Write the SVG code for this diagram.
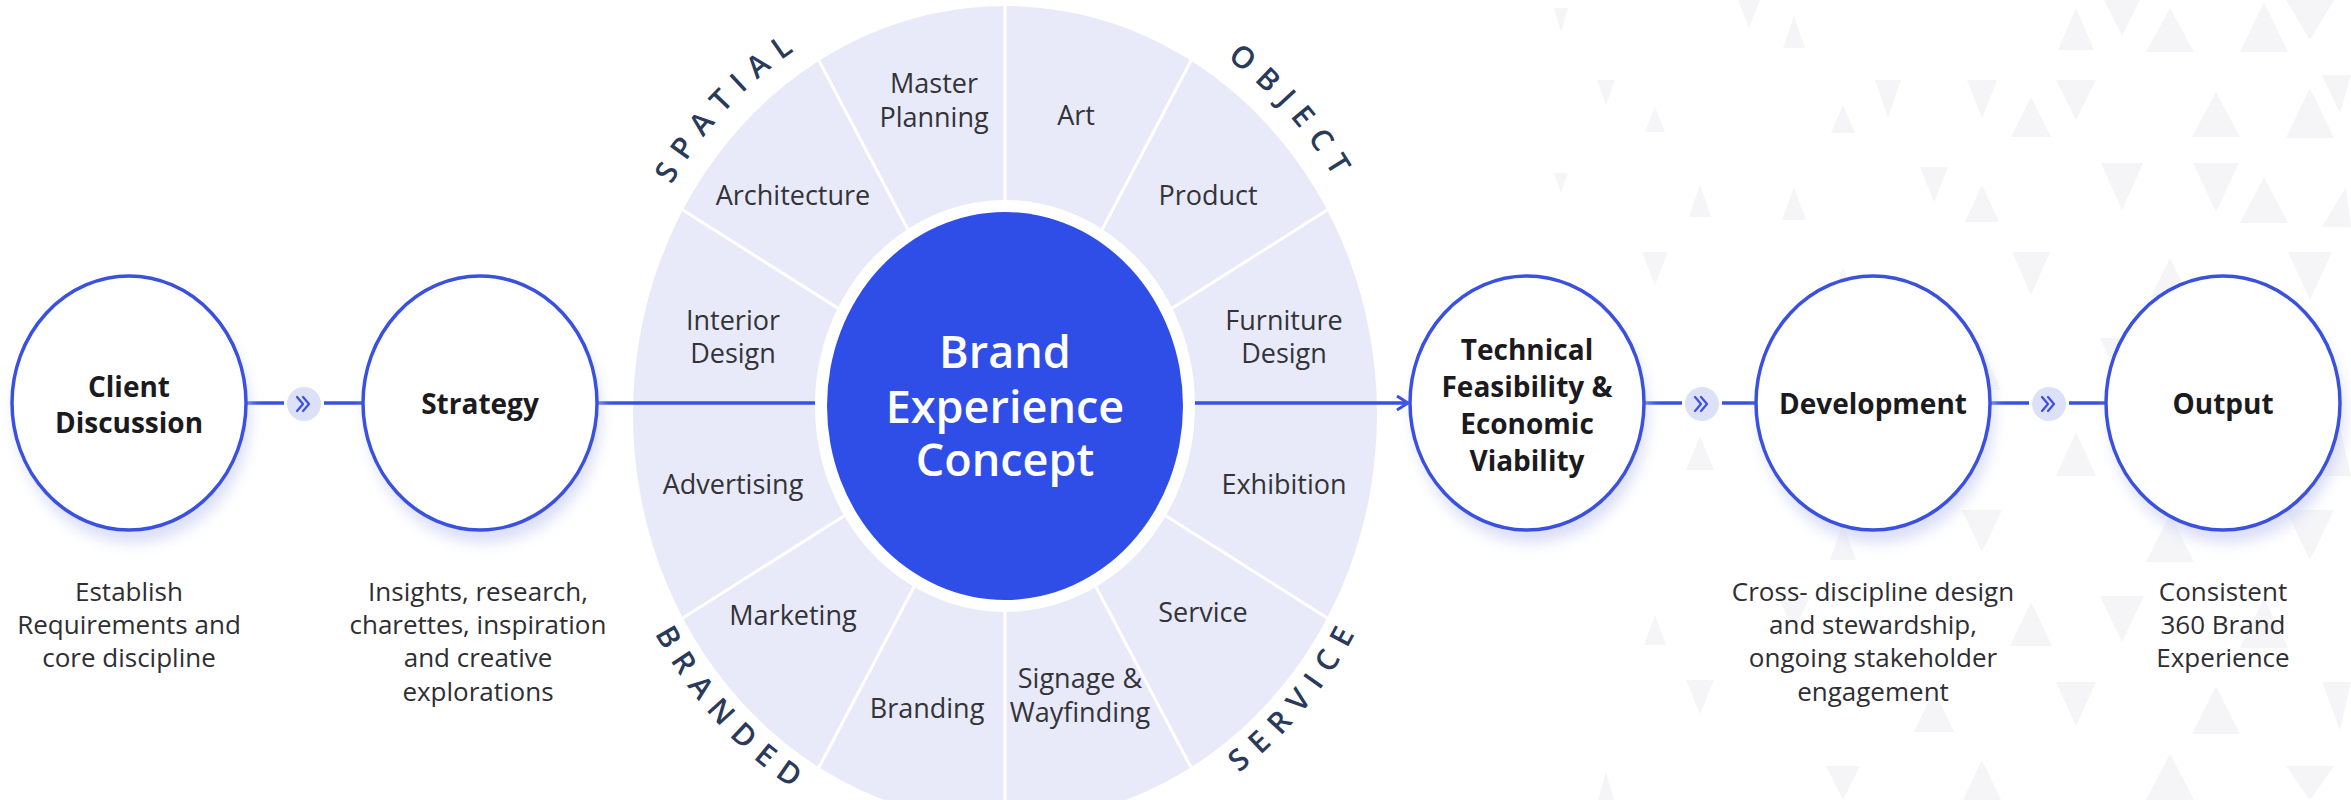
<svg xmlns="http://www.w3.org/2000/svg" width="2351" height="800" viewBox="0 0 2351 800">
<defs>
<style>
.tri{fill:#f5f5f7}
.node{fill:#ffffff;stroke:#3a50e0;stroke-width:3.5}
.shadow{fill:#ccd1f5;opacity:0.7}
.lbl{font-family:"Open Sans","Liberation Sans",sans-serif;font-weight:700;font-size:28px;fill:#1b1b1f;text-anchor:middle}
.desc{font-family:"Open Sans","Liberation Sans",sans-serif;font-weight:500;font-size:26px;fill:#2e2e33;text-anchor:middle}
.seg{font-family:"Open Sans","Liberation Sans",sans-serif;font-size:27px;fill:#333338;text-anchor:middle}
.core{font-family:"Open Sans","Liberation Sans",sans-serif;font-weight:600;font-size:45px;fill:#ffffff;text-anchor:middle}
.cat{font-family:"Open Sans","Liberation Sans",sans-serif;font-weight:600;font-size:30px;fill:#2a3a5a;letter-spacing:11px;text-anchor:middle}
.conn{stroke:#3a50e0;stroke-width:3.5;fill:none}
.div{stroke:#ffffff;stroke-width:3}
.badge{fill:#dde1f7}
.chev{stroke:#3a50e0;stroke-width:2.2;fill:none;stroke-linecap:round;stroke-linejoin:round}
</style>
<filter id="blur" x="-20%" y="-20%" width="140%" height="140%"><feGaussianBlur stdDeviation="7"/></filter>
<marker id="arrow" viewBox="0 0 16 18" refX="14" refY="9" markerWidth="16" markerHeight="18" markerUnits="userSpaceOnUse" orient="auto">
<path d="M3 2 L14 9 L3 16" fill="none" stroke="#3a50e0" stroke-width="3"/>
</marker>
<path id="arcTop" d="M 611 414 A 394 430 0 0 1 1399 414"/>
<path id="arcBot" d="M 601 414 A 404 440 0 0 0 1409 414"/>
</defs>
<rect width="2351" height="800" fill="#ffffff"/>

<g id="background-triangles">
<polygon class="tri" points="1554,8 1568,8 1561,32"/>
<polygon class="tri" points="1738,0 1760,0 1749,28"/>
<polygon class="tri" points="1783,48 1805,48 1794,16"/>
<polygon class="tri" points="2058,50 2094,50 2076,8"/>
<polygon class="tri" points="2104,0 2140,0 2122,36"/>
<polygon class="tri" points="2146,52 2194,52 2170,8"/>
<polygon class="tri" points="2240,52 2288,52 2264,2"/>
<polygon class="tri" points="2286,0 2334,0 2310,40"/>
<polygon class="tri" points="1597,80 1615,80 1606,105"/>
<polygon class="tri" points="1645,132 1665,132 1655,107"/>
<polygon class="tri" points="1831,133 1855,133 1843,105"/>
<polygon class="tri" points="1875,80 1901,80 1888,117"/>
<polygon class="tri" points="1967,80 1997,80 1982,118"/>
<polygon class="tri" points="2011,137 2051,137 2031,97"/>
<polygon class="tri" points="2056,80 2096,80 2076,120"/>
<polygon class="tri" points="2192,137 2240,137 2216,92"/>
<polygon class="tri" points="2286,138 2334,138 2310,88"/>
<polygon class="tri" points="2322,75 2351,75 2340,113"/>
<polygon class="tri" points="1554,173 1568,173 1561,193"/>
<polygon class="tri" points="1689,217 1711,217 1700,185"/>
<polygon class="tri" points="1782,220 1806,220 1794,187"/>
<polygon class="tri" points="1920,167 1948,167 1934,202"/>
<polygon class="tri" points="1965,222 1999,222 1982,185"/>
<polygon class="tri" points="2101,163 2143,163 2122,210"/>
<polygon class="tri" points="2193,163 2239,163 2216,212"/>
<polygon class="tri" points="2240,223 2288,223 2264,177"/>
<polygon class="tri" points="2322,227 2351,227 2346,187"/>
<polygon class="tri" points="1642,252 1668,252 1655,285"/>
<polygon class="tri" points="1830,305 1856,305 1843,268"/>
<polygon class="tri" points="2012,252 2050,252 2031,295"/>
<polygon class="tri" points="2147,305 2193,305 2170,258"/>
<polygon class="tri" points="2288,252 2332,252 2310,300"/>
<polygon class="tri" points="1598,388 1614,388 1606,362"/>
<polygon class="tri" points="1780,338 1808,338 1794,372"/>
<polygon class="tri" points="1963,390 2001,390 1982,348"/>
<polygon class="tri" points="2100,338 2144,338 2122,385"/>
<polygon class="tri" points="2240,392 2288,392 2264,342"/>
<polygon class="tri" points="1686,470 1714,470 1700,436"/>
<polygon class="tri" points="1914,424 1954,424 1934,466"/>
<polygon class="tri" points="2056,476 2096,476 2076,432"/>
<polygon class="tri" points="2192,424 2240,424 2216,472"/>
<polygon class="tri" points="2322,476 2351,476 2340,428"/>
<polygon class="tri" points="1553,508 1569,508 1561,532"/>
<polygon class="tri" points="1830,560 1856,560 1843,524"/>
<polygon class="tri" points="1962,510 2002,510 1982,552"/>
<polygon class="tri" points="2146,562 2194,562 2170,514"/>
<polygon class="tri" points="2286,510 2334,510 2310,560"/>
<polygon class="tri" points="1644,645 1666,645 1655,615"/>
<polygon class="tri" points="1778,596 1810,596 1794,632"/>
<polygon class="tri" points="2010,646 2052,646 2031,602"/>
<polygon class="tri" points="2100,596 2144,596 2122,642"/>
<polygon class="tri" points="2240,648 2288,648 2264,598"/>
<polygon class="tri" points="1686,680 1714,680 1700,714"/>
<polygon class="tri" points="1914,732 1954,732 1934,690"/>
<polygon class="tri" points="2056,682 2096,682 2076,726"/>
<polygon class="tri" points="2192,734 2240,734 2216,686"/>
<polygon class="tri" points="2322,682 2351,682 2340,730"/>
<polygon class="tri" points="1598,800 1614,800 1606,772"/>
<polygon class="tri" points="1826,766 1860,766 1843,800"/>
<polygon class="tri" points="1963,800 2001,800 1982,760"/>
<polygon class="tri" points="2146,800 2194,800 2170,754"/>
<polygon class="tri" points="2286,766 2334,766 2310,800"/>
</g>

<g id="wheel">
<ellipse cx="1005" cy="414" rx="372" ry="408" fill="#e8eafa"/>
<line class="div" x1="1005" y1="414" x2="1005" y2="6"/>
<line class="div" x1="1005" y1="414" x2="1191" y2="60.7"/>
<line class="div" x1="1005" y1="414" x2="1327.2" y2="210"/>
<line class="div" x1="1005" y1="414" x2="1327.2" y2="618"/>
<line class="div" x1="1005" y1="414" x2="1191" y2="767.3"/>
<line class="div" x1="1005" y1="414" x2="1005" y2="822"/>
<line class="div" x1="1005" y1="414" x2="819" y2="767.3"/>
<line class="div" x1="1005" y1="414" x2="682.8" y2="618"/>
<line class="div" x1="1005" y1="414" x2="682.8" y2="210"/>
<line class="div" x1="1005" y1="414" x2="819" y2="60.7"/>
<text class="seg" x="934" y="93">Master</text>
<text class="seg" x="934" y="127">Planning</text>
<text class="seg" x="1076" y="125">Art</text>
<text class="seg" x="793" y="205">Architecture</text>
<text class="seg" x="1208" y="205">Product</text>
<text class="seg" x="733" y="330">Interior</text>
<text class="seg" x="733" y="363">Design</text>
<text class="seg" x="1284" y="330">Furniture</text>
<text class="seg" x="1284" y="363">Design</text>
<text class="seg" x="733" y="494">Advertising</text>
<text class="seg" x="1284" y="494">Exhibition</text>
<text class="seg" x="793" y="625">Marketing</text>
<text class="seg" x="1203" y="622">Service</text>
<text class="seg" x="927" y="718">Branding</text>
<text class="seg" x="1080" y="688">Signage &amp;</text>
<text class="seg" x="1080" y="722">Wayfinding</text>
<text class="cat"><textPath href="#arcTop" startOffset="26%">SPATIAL</textPath></text>
<text class="cat"><textPath href="#arcTop" startOffset="75%">OBJECT</textPath></text>
<text class="cat"><textPath href="#arcBot" startOffset="25.5%">BRANDED</textPath></text>
<text class="cat"><textPath href="#arcBot" startOffset="76.3%">SERVICE</textPath></text>
</g>

<g id="connectors">
<line class="conn" x1="246" y1="403" x2="284" y2="403"/>
<line class="conn" x1="324" y1="403" x2="363" y2="403"/>
<line class="conn" x1="597" y1="403" x2="830" y2="403"/>
<line class="conn" x1="1181" y1="403" x2="1408" y2="403" marker-end="url(#arrow)"/>
<line class="conn" x1="1644" y1="403" x2="1682" y2="403"/>
<line class="conn" x1="1722" y1="403" x2="1756" y2="403"/>
<line class="conn" x1="1990" y1="403" x2="2029" y2="403"/>
<line class="conn" x1="2069" y1="403" x2="2106" y2="403"/>
<g id="badge-1"><circle class="badge" cx="304" cy="404" r="17"/><path class="chev" d="M297 397 L303 404 L297 411 M303 397 L309 404 L303 411"/></g>
<g id="badge-2"><circle class="badge" cx="1702" cy="404" r="17"/><path class="chev" d="M1695 397 L1701 404 L1695 411 M1701 397 L1707 404 L1701 411"/></g>
<g id="badge-3"><circle class="badge" cx="2049" cy="404" r="17"/><path class="chev" d="M2042 397 L2048 404 L2042 411 M2048 397 L2054 404 L2048 411"/></g>
</g>

<g id="core">
<ellipse cx="1005" cy="406" rx="190" ry="206" fill="#ffffff"/>
<ellipse cx="1005" cy="406" rx="178" ry="194" fill="#2f4ee8"/>
<text class="core" x="1005" y="368">Brand</text>
<text class="core" x="1005" y="423">Experience</text>
<text class="core" x="1005" y="476">Concept</text>
</g>

<g id="node-client">
<ellipse class="shadow" cx="133" cy="416" rx="117" ry="127" filter="url(#blur)"/>
<ellipse class="node" cx="129" cy="403" rx="117" ry="127"/>
<text class="lbl" x="129" y="397">Client</text>
<text class="lbl" x="129" y="433">Discussion</text>
<text class="desc" x="129" y="601">Establish</text>
<text class="desc" x="129" y="634">Requirements and</text>
<text class="desc" x="129" y="667">core discipline</text>
</g>

<g id="node-strategy">
<ellipse class="shadow" cx="484" cy="416" rx="117" ry="127" filter="url(#blur)"/>
<ellipse class="node" cx="480" cy="403" rx="117" ry="127"/>
<text class="lbl" x="480" y="414">Strategy</text>
<text class="desc" x="478" y="601">Insights, research,</text>
<text class="desc" x="478" y="634">charettes, inspiration</text>
<text class="desc" x="478" y="667">and creative</text>
<text class="desc" x="478" y="701">explorations</text>
</g>

<g id="node-technical">
<ellipse class="shadow" cx="1531" cy="416" rx="117" ry="127" filter="url(#blur)"/>
<ellipse class="node" cx="1527" cy="403" rx="117" ry="127"/>
<text class="lbl" x="1527" y="360">Technical</text>
<text class="lbl" x="1527" y="397">Feasibility &amp;</text>
<text class="lbl" x="1527" y="434">Economic</text>
<text class="lbl" x="1527" y="471">Viability</text>
</g>

<g id="node-development">
<ellipse class="shadow" cx="1877" cy="416" rx="117" ry="127" filter="url(#blur)"/>
<ellipse class="node" cx="1873" cy="403" rx="117" ry="127"/>
<text class="lbl" x="1873" y="414">Development</text>
<text class="desc" x="1873" y="601">Cross- discipline design</text>
<text class="desc" x="1873" y="634">and stewardship,</text>
<text class="desc" x="1873" y="667">ongoing stakeholder</text>
<text class="desc" x="1873" y="701">engagement</text>
</g>

<g id="node-output">
<ellipse class="shadow" cx="2227" cy="416" rx="117" ry="127" filter="url(#blur)"/>
<ellipse class="node" cx="2223" cy="403" rx="117" ry="127"/>
<text class="lbl" x="2223" y="414">Output</text>
<text class="desc" x="2223" y="601">Consistent</text>
<text class="desc" x="2223" y="634">360 Brand</text>
<text class="desc" x="2223" y="667">Experience</text>
</g>
</svg>
